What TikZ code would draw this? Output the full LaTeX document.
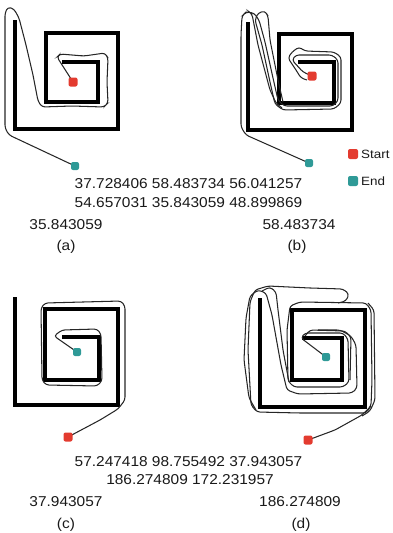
\documentclass[tikz,border=0pt]{standalone}
\usepackage{fontspec}
\setmainfont{Liberation Sans}
\usetikzlibrary{backgrounds}
\definecolor{startred}{HTML}{E33B2F}
\definecolor{endteal}{HTML}{2F9A97}
\tikzset{
  wall/.style={line width=3.2pt, draw=black},
  track/.style={line width=1.05pt, draw=black!85, rounded corners=3pt},
  startdot/.style={fill=startred, rounded corners=2pt, minimum size=9pt, inner sep=0pt},
  enddot/.style={fill=endteal, rounded corners=2pt, minimum size=8pt, inner sep=0pt},
  num/.style={font=\fontsize{14.3}{16}\selectfont, xscale=1.08, inner sep=0pt, text=black!90},
  legendtext/.style={font=\fontsize{12}{14}\selectfont, xscale=1.12, anchor=west, inner sep=0pt, text=black!90}
}
\begin{document}
\begin{tikzpicture}[x=1pt,y=-1pt]
\useasboundingbox (0,0) rectangle (393,533);

% start and end markers
\node[startdot] (sa) at (73,82) {};
\node[enddot]   (ea) at (75,166) {};
\node[startdot] (sb) at (312,76) {};
\node[enddot]   (eb) at (309,163) {};
\node[startdot] (sc) at (68,437) {};
\node[enddot]   (ec) at (77,352) {};
\node[startdot] (sd) at (308,440) {};
\node[enddot]   (ed) at (326,357) {};

% legend
\node[startdot, minimum size=10pt] (ls) at (353,154) {};
\node[enddot, minimum size=10pt]   (le) at (353,181) {};
\node[legendtext] (lst) at (361,154) {Start};
\node[legendtext] (let) at (361,181) {End};

\begin{scope}[on background layer]
% spiral walls
\draw[wall] (15,20) -- (15,129) -- (118,129) -- (118,33) -- (46,33) -- (46,102) -- (98,102) -- (98,62) -- (62,62);
\draw[wall] (248,22) -- (248,130) -- (352,130) -- (352,34) -- (279,34) -- (279,103) -- (334,103) -- (334,62) -- (298,62);
\draw[wall] (15,297) -- (15,405) -- (118,405) -- (118,309) -- (45,309) -- (45,380) -- (99,380) -- (99,337) -- (62,337);
\draw[wall] (260,298) -- (260,407) -- (365,407) -- (365,310) -- (292,310) -- (292,380) -- (342,380) -- (342,338) -- (302,338);

% trajectory (a)
\draw[track] (sa.center) -- (57,57) -- (60,54) -- (84,56) -- (105,53) -- (108,58) -- (107,82) -- (108,103) -- (104,107) -- (72,106) -- (42,107) -- (38,101) -- (33,75) -- (26,45) -- (19,18) -- (14,9) -- (8,7) -- (5,13) -- (5,60) -- (5,128) -- (9,135) -- (ea.center);

% trajectory (b)
\draw[track] (sb.center) -- (303,72) -- (292,60) -- (296,55) -- (332,55) -- (338,60) -- (338,101) -- (333,106) -- (284,106) -- (278,100) -- (273,78) -- (265,42) -- (259,20) -- (254,13) -- (246,12) -- (242,16) -- (241,35) -- (241,127) -- (246,135) -- (eb.center);
\draw[track] (307,80) -- (301,78) -- (296,70) -- (288,58) -- (292,52) -- (299,47) -- (305,51) -- (334,52) -- (341,57) -- (341,103) -- (334,109) -- (283,110) -- (275,104) -- (270,82) -- (262,45) -- (255,20) -- (258,13) -- (265,11) -- (268,16) -- (270,40) -- (278,80) -- (283,102);
\draw[track] (244,14) -- (248,11) -- (252,14) -- (258,45) -- (270,90) -- (276,103) -- (282,108);

% trajectory (c)
\draw[track] (sc.center) -- (100,420) -- (118,409) -- (125,400) -- (125,306) -- (121,301) -- (45,303) -- (41,308) -- (42,380) -- (46,385) -- (97,386) -- (102,381) -- (101,334) -- (97,329) -- (62,330) -- (54,336) -- (ec.center);

% trajectory (d)
\draw[track] (sd.center) -- (335,430) -- (362,415) -- (371,406) -- (372,380) -- (371,310) -- (366,303) -- (300,302) -- (290,306) -- (287,330) -- (288,381) -- (294,387) -- (343,387) -- (349,382) -- (348,339) -- (343,333) -- (305,333) -- (301,338) -- (ed.center);
\draw[track] (371,406) -- (366,413) -- (300,413) -- (257,412) -- (251,405) -- (248,350) -- (250,302) -- (255,290) -- (268,286) -- (310,288) -- (343,289) -- (349,294) -- (346,301) -- (338,303);
\draw[track] (256,410) -- (249,398) -- (244,360) -- (246,318) -- (250,296) -- (258,290) -- (266,293) -- (272,315) -- (281,365) -- (287,390) -- (298,394) -- (352,393) -- (357,388) -- (356,345) -- (351,336) -- (340,330) -- (318,330);
\draw[track] (262,291) -- (270,287) -- (276,292) -- (278,310) -- (283,350) -- (289,382);
\draw[track] (368,303) -- (374,310) -- (375,400) -- (370,411) -- (362,416);
\draw[track] (305,336) -- (310,330) -- (345,331) -- (351,337) -- (350,380);
\end{scope}

% numbers and captions
\node[num] (ta1) at (188.5,184) {37.728406 58.483734 56.041257};
\node[num] (ta2) at (188.5,203) {54.657031 35.843059 48.899869};
\node[num] (ta3) at (66,225) {35.843059};
\node[num] (tb3) at (299,225) {58.483734};
\node[num] (capa) at (66,247) {(a)};
\node[num] (capb) at (297,247) {(b)};
\node[num] (tc1) at (188.5,462) {57.247418 98.755492 37.943057};
\node[num] (tc2) at (190,480) {186.274809 172.231957};
\node[num] (tc3) at (66,502) {37.943057};
\node[num] (td3) at (300,502) {186.274809};
\node[num] (capc) at (66,525) {(c)};
\node[num] (capd) at (301,525) {(d)};
\end{tikzpicture}
\end{document}
